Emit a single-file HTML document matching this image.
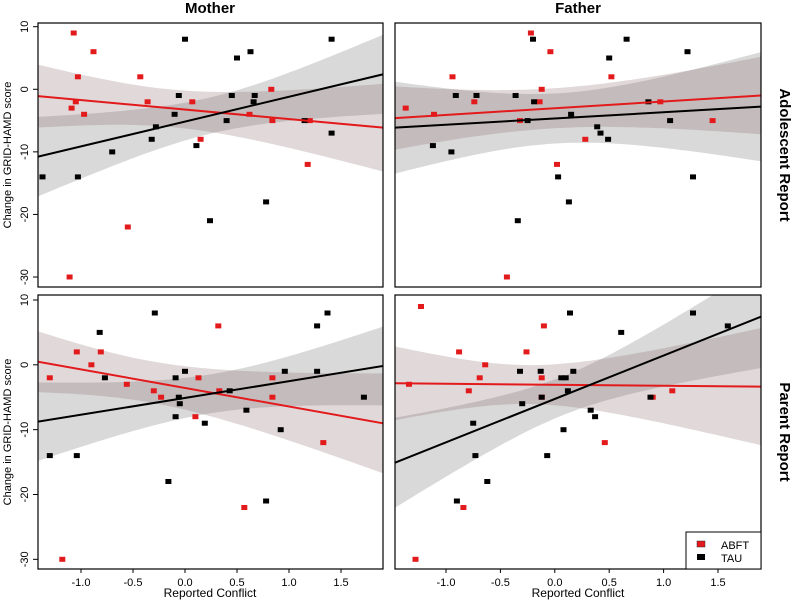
<!DOCTYPE html>
<html><head><meta charset="utf-8">
<style>
html,body{margin:0;padding:0;background:#fff;}
svg{display:block;font-family:"Liberation Sans",sans-serif;}
</style></head>
<body>
<svg id="chart" width="800" height="600" viewBox="0 0 800 600">
<text x="210" y="13" text-anchor="middle" font-size="15" font-weight="bold">Mother</text>
<text x="578" y="13" text-anchor="middle" font-size="15" font-weight="bold">Father</text>
<text transform="translate(780,155) rotate(90)" text-anchor="middle" font-size="15" font-weight="bold">Adolescent Report</text>
<text transform="translate(780,432) rotate(90)" text-anchor="middle" font-size="15" font-weight="bold">Parent Report</text>
<text transform="translate(11,155) rotate(-90)" text-anchor="middle" font-size="11">Change in GRID-HAMD score</text>
<text transform="translate(11,432) rotate(-90)" text-anchor="middle" font-size="11">Change in GRID-HAMD score</text>
<text x="210" y="597" text-anchor="middle" font-size="12">Reported Conflict</text>
<text x="578" y="597" text-anchor="middle" font-size="12">Reported Conflict</text>
<g id="panels"></g>
<g>
<rect x="686" y="532" width="75" height="37" fill="#fff" stroke="#000" stroke-width="1"/>
<rect x="697" y="541" width="8" height="6" fill="#e31a1c" stroke="#333" stroke-width="0.5"/>
<text x="721" y="549" font-size="11">ABFT</text>
<rect x="697" y="554" width="8" height="6" fill="#000"/>
<text x="721" y="562" font-size="11">TAU</text>
</g>
</svg>
<script>
// ---- data ----
const panelNames = ["mother-adolescent","father-adolescent","mother-parent","father-parent"];
const redX = [
 [-1.07,-0.88,-1.03,-0.43,-1.05,-1.09,-0.97,-0.36,0.07,0.15,0.62,0.83,0.84,1.20,1.18,-0.55,-1.11],
 [-1.37,-1.11,-0.94,-0.74,-0.32,-0.22,-0.14,-0.12,-0.04,0.02,-0.44,0.28,0.52,0.97,1.45],
 [-1.30,-1.04,-0.90,-0.81,-0.56,-0.30,-0.23,0.10,0.13,0.32,0.33,0.57,0.84,0.84,1.33,-1.18],
 [-1.23,-1.34,-0.88,-0.79,-0.69,-0.64,-0.26,-0.12,-0.10,-0.12,0.46,0.90,1.08,-0.84,-1.28]
];
const redY = [
 [9,6,2,2,-2,-3,-4,-2,-2,-8,-4,0,-5,-5,-12,-22,-30],
 [-3,-4,2,-2,-5,9,-2,0,6,-12,-30,-8,2,-2,-5],
 [-2,2,0,2,-3,-4,-5,-8,-2,6,-4,-22,-2,-5,-12,-30],
 [9,-3,2,-4,-2,0,2,-2,6,-5,-12,-5,-4,-22,-30]
];
const blackX = [
 [-1.37,-1.03,-0.70,-0.32,-0.28,-0.10,-0.06,0.00,0.11,0.24,0.40,0.45,0.50,0.63,0.66,0.67,0.78,1.15,1.41,1.41],
 [-1.12,-0.95,-0.91,-0.72,-0.36,-0.25,-0.20,-0.19,0.03,-0.34,0.13,0.15,0.39,0.42,0.49,0.50,0.66,0.86,1.06,1.22,1.27],
 [-1.30,-1.04,-0.82,-0.77,-0.29,-0.16,-0.09,-0.09,-0.06,-0.05,0.00,0.19,0.43,0.59,0.78,0.92,0.96,1.27,1.27,1.37,1.72],
 [-0.90,-0.75,-0.73,-0.62,-0.32,-0.30,-0.13,-0.12,-0.07,0.06,0.10,0.08,0.12,0.14,0.17,0.33,0.37,0.61,0.88,1.27,1.59]
];
const blackY = [
 [-14,-14,-10,-8,-6,-4,-1,8,-9,-21,-5,-1,5,6,-2,-1,-18,-5,8,-7],
 [-9,-10,-1,-1,-1,-5,8,-2,-14,-21,-18,-4,-6,-7,-8,5,8,-2,-5,6,-14],
 [-14,-14,5,-2,8,-18,-2,-8,-5,-6,-1,-9,-4,-7,-21,-10,-1,6,-1,8,-5],
 [-21,-9,-14,-18,-1,-6,-1,-5,-14,-2,-2,-10,-4,8,-1,-7,-8,5,-5,8,6]
];
// fitted line values at left/right panel edge
const redFitLeft = [-1.09,-4.6,0.48,-2.85];
const redFitRight = [-6.13,-1.0,-9.02,-3.37];
const blackFitLeft = [-10.77,-6.13,-8.77,-15.1];
const blackFitRight = [2.39,-2.78,-0.18,7.43];
// confidence band: min half-width, x of min, growth
const redBandA = [3.0,3.2,3.2,3.0];
const redBandXm = [-0.12,-0.04,-0.32,-0.25];
const redBandB = [3.13,2.74,3.15,3.97];
const blackBandA = [2.9,4.0,3.0,3.0];
const blackBandXm = [0.25,0.02,0.24,0.08];
const blackBandB = [3.4,4.14,3.18,4.04];
const yTicks = [10,0,-10,-20,-30];
const xTicks = [-1.0,-0.5,0.0,0.5,1.0,1.5];
const xTickLabels = ["-1.0","-0.5","0.0","0.5","1.0","1.5"];

// ---- layout ----
const NS="http://www.w3.org/2000/svg";
const panels=[
 {l:38,r:383,t:23,b:287,x0:185,xu:104,y10:26.7,yu:6.258,yt:true,xt:false},
 {l:395,r:761,t:23,b:287,x0:554.8,xu:108.8,y10:26.7,yu:6.258,yt:false,xt:false},
 {l:38,r:383,t:295,b:569,x0:185,xu:104,y10:300,yu:6.483,yt:true,xt:true},
 {l:395,r:761,t:295,b:569,x0:554.8,xu:108.8,y10:300,yu:6.483,yt:false,xt:true}
];
function mk(tag,attrs,parent){const e=document.createElementNS(NS,tag);for(const k in attrs)e.setAttribute(k,attrs[k]);parent.appendChild(e);return e;}
const root=document.getElementById('panels');
panels.forEach((p,i)=>{
 const sx=v=>p.x0+v*p.xu;
 const sy=v=>p.y10+(10-v)*p.yu;
 const xmin=(p.l-p.x0)/p.xu, xmax=(p.r-p.x0)/p.xu;
 const g=mk('g',{},root);
 
 
 const cid='clip'+i;
 const cp=mk('clipPath',{id:cid},g);mk('rect',{x:p.l,y:p.t,width:p.r-p.l,height:p.b-p.t},cp);
 const inner=mk('g',{'clip-path':'url(#'+cid+')'},g);
 function band(fl,fr,a,xm,b,fill,op,name){
  const slope=(fr-fl)/(xmax-xmin);
  const f=x=>fl+slope*(x-xmin);
  const hw=x=>Math.sqrt(a*a+b*b*(x-xm)*(x-xm));
  let up=[],lo=[];
  for(let k=0;k<=60;k++){const x=xmin+(xmax-xmin)*k/60;up.push(sx(x).toFixed(1)+','+sy(f(x)+hw(x)).toFixed(1));lo.push(sx(x).toFixed(1)+','+sy(f(x)-hw(x)).toFixed(1));}
  const el=mk('polygon',{points:up.concat(lo.reverse()).join(' '),fill:fill,'fill-opacity':op},inner);
  
  
 }
 band(blackFitLeft[i],blackFitRight[i],blackBandA[i],blackBandXm[i],blackBandB[i],'#777777',0.28,'tau-confidence-band');
 band(redFitLeft[i],redFitRight[i],redBandA[i],redBandXm[i],redBandB[i],'#806262',0.24,'abft-confidence-band');
 function pts(xs,ys,col,name){
  xs.forEach((x,k)=>{const el=mk('rect',{x:(sx(x)-3).toFixed(1),y:(sy(ys[k])-2.5).toFixed(1),width:6,height:5,fill:col},inner);
   
   });
 }
 pts(redX[i],redY[i],'#e31a1c','abft-point');
 pts(blackX[i],blackY[i],'#000','tau-point');
 function line(fl,fr,col,name){
  const el=mk('line',{x1:p.l,y1:sy(fl),x2:p.r,y2:sy(fr),stroke:col,'stroke-width':2},inner);
  
  
 }
 line(redFitLeft[i],redFitRight[i],'#e31a1c','abft-fit-line');
 line(blackFitLeft[i],blackFitRight[i],'#000','tau-fit-line');
 const fr=mk('rect',{x:p.l,y:p.t,width:p.r-p.l,height:p.b-p.t,fill:'none',stroke:'#000','stroke-width':1.2},g);
 
 
 if(p.yt){yTicks.forEach(v=>{const y=sy(v);mk('line',{x1:p.l-5,y1:y,x2:p.l,y2:y,stroke:'#000'},g);
  const t=mk('text',{transform:'translate(28,'+y+') rotate(-90)','text-anchor':'middle','font-size':11},g);t.textContent=String(v);
  
  });}
 if(p.xt){xTicks.forEach((v,k)=>{const x=sx(v);mk('line',{x1:x,y1:p.b,x2:x,y2:p.b+4,stroke:'#000'},g);
  const t=mk('text',{x:x,y:586,'text-anchor':'middle','font-size':11},g);t.textContent=xTickLabels[k];
  
  });}
});
</script>
</body></html>
